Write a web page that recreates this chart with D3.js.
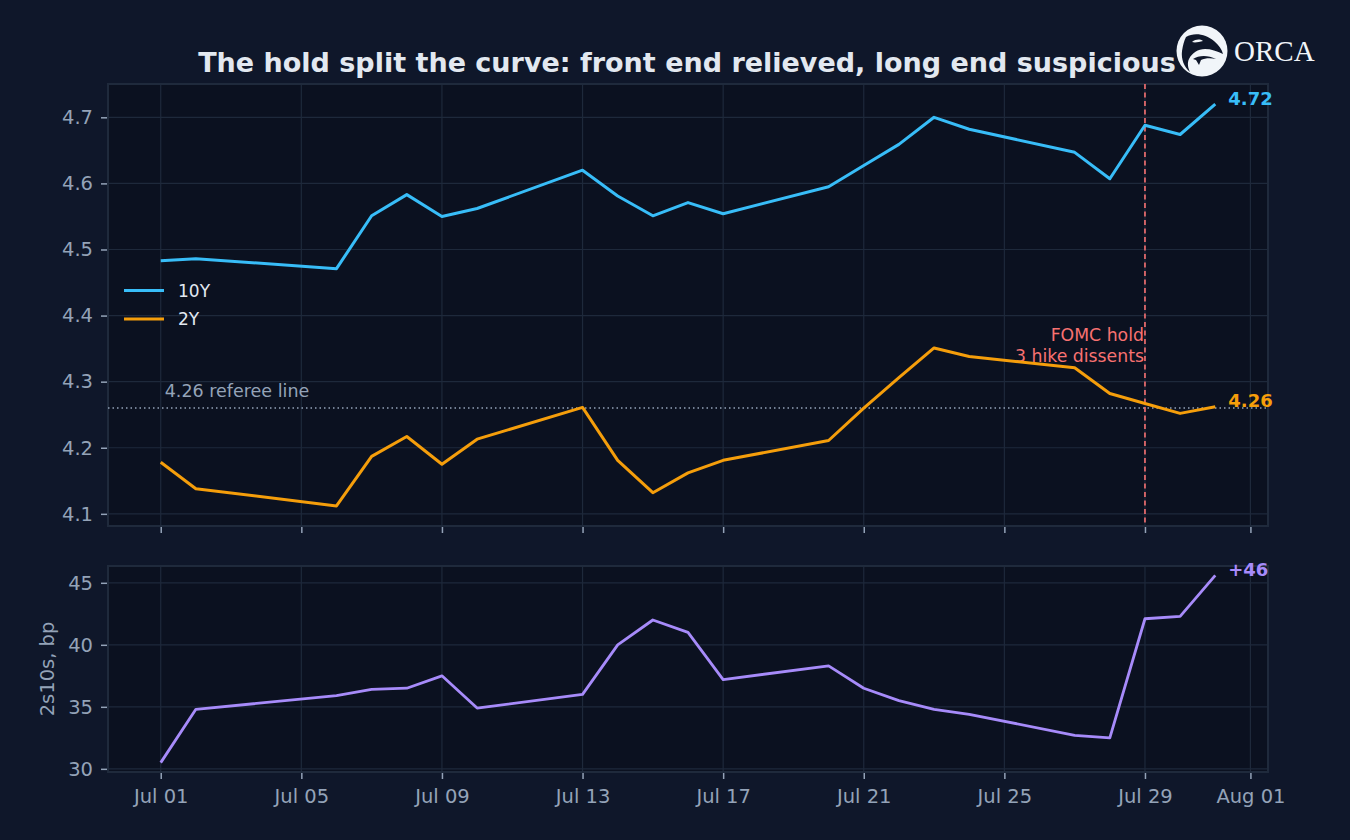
<!DOCTYPE html>
<html><head><meta charset="utf-8">
<script src="https://cdn.jsdelivr.net/npm/d3@7/dist/d3.min.js"></script>
<style>
html,body{margin:0;padding:0;background:#0f172a;overflow:hidden;}
svg{display:block;font-family:"DejaVu Sans",sans-serif;}
</style></head>
<body>
<svg id="c" width="1350" height="840"></svg>
<script>
const dates = ["2026-07-01","2026-07-02","2026-07-06","2026-07-07","2026-07-08","2026-07-09","2026-07-10",
  "2026-07-13","2026-07-14","2026-07-15","2026-07-16","2026-07-17","2026-07-20","2026-07-21","2026-07-22",
  "2026-07-23","2026-07-24","2026-07-27","2026-07-28","2026-07-29","2026-07-30","2026-07-31"];
const y10 = [4.483,4.486,4.471,4.551,4.583,4.550,4.562,4.620,4.581,4.551,4.571,4.554,4.595,4.627,4.659,4.700,4.682,4.647,4.607,4.688,4.674,4.720];
const y2  = [4.178,4.138,4.112,4.187,4.217,4.175,4.213,4.261,4.181,4.132,4.162,4.181,4.211,4.260,4.306,4.351,4.338,4.321,4.282,4.267,4.252,4.262];
const spread = [30.5,34.8,35.9,36.4,36.5,37.5,34.9,36.0,40.0,42.0,41.0,37.2,38.3,36.5,35.5,34.8,34.4,32.7,32.5,42.1,42.3,45.6];
const xTickLabels = ["Jul 01","Jul 05","Jul 09","Jul 13","Jul 17","Jul 21","Jul 25","Jul 29","Aug 01"];
const xTickDates = ["2026-07-01","2026-07-05","2026-07-09","2026-07-13","2026-07-17","2026-07-21","2026-07-25","2026-07-29","2026-08-01"];
const topTicks = [4.1,4.2,4.3,4.4,4.5,4.6,4.7];
const botTicks = [30,35,40,45];
const refereeLevel = 4.26;
const fomcDate = "2026-07-29";
const title = "The hold split the curve: front end relieved, long end suspicious";

const C = {bg:"#0f172a", panel:"#0b1120", grid:"#1e293b", spine:"#1f2a3c", tick:"#94a3b8",
  c10:"#38bdf8", c2:"#f59e0b", cs:"#a78bfa", fomc:"#f87171", text:"#e2e8f0"};

const parse = d3.utcParse("%Y-%m-%d");
const D = dates.map(parse);
const svg = d3.select("#c");
svg.append("rect").attr("width",1350).attr("height",840).attr("fill",C.bg);

const L = 108, R = 1268;
const pTop = {t:84, b:526}, pBot = {t:566, b:772};
const day = 864e5;
const x = d3.scaleUtc().domain([new Date(+D[0]-1.5*day), new Date(+D[D.length-1]+1.5*day)]).range([L,R]);

function padExt(arr){const e=d3.extent(arr);const p=(e[1]-e[0])*0.05;return [e[0]-p,e[1]+p];}
const yT = d3.scaleLinear().domain(padExt(y10.concat(y2))).range([pTop.b,pTop.t]);
const yB = d3.scaleLinear().domain(padExt(spread)).range([pBot.b,pBot.t]);

function panel(p, y, ticks){
  const g = svg.append("g");
  g.append("rect").attr("x",L).attr("y",p.t).attr("width",R-L).attr("height",p.b-p.t).attr("fill",C.panel);
  g.selectAll(".gx").data(xTickDates.map(parse)).join("line")
    .attr("x1",d=>x(d)).attr("x2",d=>x(d)).attr("y1",p.t).attr("y2",p.b)
    .attr("stroke",C.grid).attr("stroke-width",1.2);
  g.selectAll(".gy").data(ticks).join("line")
    .attr("x1",L).attr("x2",R).attr("y1",d=>y(d)).attr("y2",d=>y(d))
    .attr("stroke",C.grid).attr("stroke-width",1.2);
  return g;
}
function frame(p){
  svg.append("rect").attr("x",L).attr("y",p.t).attr("width",R-L).attr("height",p.b-p.t)
    .attr("fill","none").attr("stroke",C.spine).attr("stroke-width",2);
}
panel(pTop, yT, topTicks);
panel(pBot, yB, botTicks);
frame(pTop); frame(pBot);

// referee line
svg.append("line").attr("x1",L).attr("x2",R).attr("y1",yT(refereeLevel)).attr("y2",yT(refereeLevel))
  .attr("stroke","#94a3b8").attr("stroke-width",1.5).attr("stroke-dasharray","1.5,3");
svg.append("text").attr("x",x(D[0])+4).attr("y",yT(refereeLevel)-11).attr("fill","#94a3b8")
  .attr("font-size",17.5).text(refereeLevel.toFixed(2)+" referee line");

// FOMC line
const fx = x(parse(fomcDate));
svg.append("line").attr("x1",fx).attr("x2",fx).attr("y1",pTop.t).attr("y2",pTop.b)
  .attr("stroke",C.fomc).attr("stroke-width",1.6).attr("stroke-dasharray","5,3.5");
const fa = svg.append("text").attr("fill",C.fomc).attr("font-size",17.3).attr("text-anchor","end");
fa.append("tspan").attr("x",fx-1).attr("y",341).text("FOMC hold");
fa.append("tspan").attr("x",fx-1).attr("y",362).text("3 hike dissents");

// lines
const lineT = (arr)=>d3.line().x((d,i)=>x(D[i])).y(d=>yT(d))(arr);
svg.append("path").attr("d",lineT(y10)).attr("fill","none").attr("stroke",C.c10).attr("stroke-width",3).attr("stroke-linejoin","round");
svg.append("path").attr("d",lineT(y2)).attr("fill","none").attr("stroke",C.c2).attr("stroke-width",3).attr("stroke-linejoin","round");
svg.append("path").attr("d",d3.line().x((d,i)=>x(D[i])).y(d=>yB(d))(spread)).attr("fill","none")
  .attr("stroke",C.cs).attr("stroke-width",2.8).attr("stroke-linejoin","round");

// end labels
const lastX = x(D[D.length-1]) + 13;
const endLabels = svg.append("g").attr("font-size",18).attr("font-weight","bold");
endLabels.append("text").attr("x",lastX).attr("y",yT(y10[y10.length-1])+1).attr("fill",C.c10)
  .text(y10[y10.length-1].toFixed(2));
endLabels.append("text").attr("x",lastX).attr("y",yT(y2[y2.length-1])+0.5).attr("fill",C.c2)
  .text(y2[y2.length-1].toFixed(2));
endLabels.append("text").attr("x",lastX).attr("y",yB(spread[spread.length-1])+0.5).attr("fill",C.cs)
  .text("+"+Math.round(spread[spread.length-1]));

// axes
function yAxis(y, ticks, fmt){
  const g = svg.append("g").attr("transform",`translate(${L-1},0)`)
    .call(d3.axisLeft(y).tickValues(ticks).tickFormat(fmt).tickSize(6).tickPadding(8));
  g.select(".domain").remove();
  g.selectAll("line").attr("stroke",C.tick).attr("stroke-width",1.5);
  g.selectAll("text").attr("fill",C.tick).attr("font-size",19.5).attr("font-family","DejaVu Sans");
}
yAxis(yT, topTicks, d3.format(".1f"));
yAxis(yB, botTicks, d3.format("d"));

function xAxis(yPos, labels){
  const g = svg.append("g").attr("transform",`translate(0,${yPos+1})`)
    .call(d3.axisBottom(x).tickValues(xTickDates.map(parse)).tickFormat((d,i)=>labels?xTickLabels[i]:"").tickSize(6).tickPadding(10));
  g.select(".domain").remove();
  g.selectAll("line").attr("stroke",C.tick).attr("stroke-width",1.5);
  g.selectAll("text").attr("fill",C.tick).attr("font-size",19.5).attr("font-family","DejaVu Sans");
}
xAxis(pTop.b, false);
xAxis(pBot.b, true);

svg.append("text").attr("transform",`translate(54,${(pBot.t+pBot.b)/2}) rotate(-90)`).attr("text-anchor","middle")
  .attr("fill",C.tick).attr("font-size",19.5).text("2s10s, bp");

// legend
const leg = [{k:"10Y",c:C.c10},{k:"2Y",c:C.c2}];
leg.forEach((d,i)=>{
  const yy = 290.5 + i*28.6;
  svg.append("line").attr("x1",124).attr("x2",164).attr("y1",yy).attr("y2",yy).attr("stroke",d.c).attr("stroke-width",3);
  svg.append("text").attr("x",178).attr("y",yy+6.3).attr("fill",C.text).attr("font-size",17).text(d.k);
});

// title
svg.append("text").attr("x",687).attr("y",72).attr("text-anchor","middle").attr("fill","#e2e8f0")
  .attr("font-size",27).attr("font-weight","bold").text(title);

// logo
const lg = svg.append("g").attr("transform","translate(1202,51)");
lg.append("circle").attr("r",25.5).attr("fill","#f1f5f9");
lg.append("path").attr("fill","#0f172a").attr("d",
  "M-16,-14 C-8,-19 4,-17 12,-10 C17,-6 20,-1 21,3 C15,0 9,-2 3,-2 C-4,-2 -10,2 -13,8 C-15,12 -14,17 -12,21 C-18,16 -21,8 -20,0 C-19,-6 -18,-10 -16,-14 Z");
lg.append("path").attr("fill","#0f172a").attr("d",
  "M-9,8 C-3,4 6,4 14,8 C9,7 3,7 -1,9 L-3,14 L-6,9 Z");
lg.append("path").attr("fill","#f1f5f9").attr("d","M-10,-9 C-6,-12 -2,-12 1,-10 C-3,-9 -7,-8 -10,-9 Z");
svg.append("text").attr("x",1234).attr("y",61).attr("fill","#f1f5f9").attr("font-size",29)
  .attr("font-family","'Liberation Serif','DejaVu Serif',serif").text("ORCA");
</script>
</body></html>
